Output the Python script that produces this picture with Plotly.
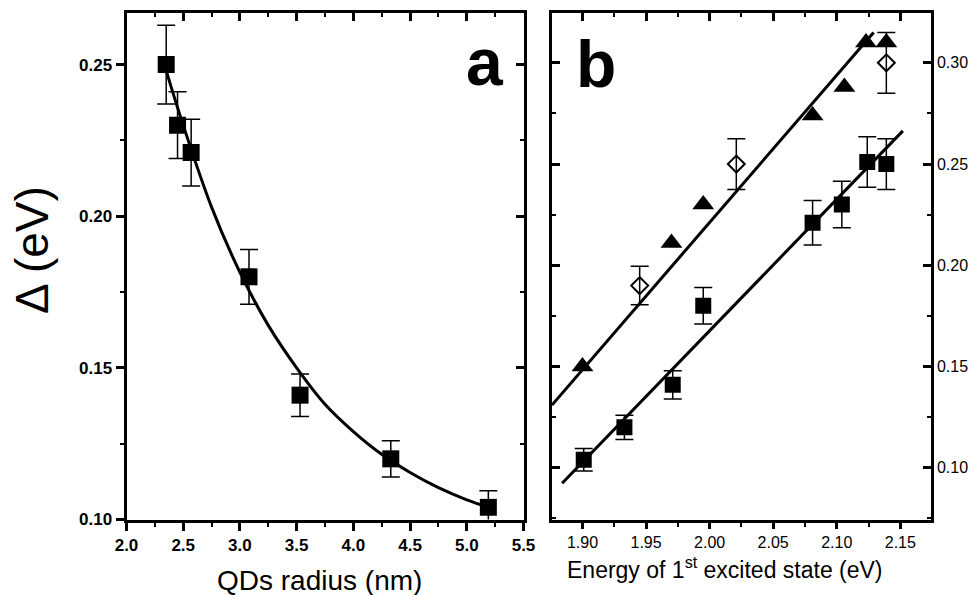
import plotly.graph_objects as go

# ---------------- data ----------------
# panel a
radius = [2.35, 2.45, 2.57, 3.08, 3.53, 4.33, 5.19]
delta_a = [0.250, 0.230, 0.221, 0.180, 0.141, 0.120, 0.104]
err_a = [0.013, 0.011, 0.011, 0.009, 0.007, 0.006, 0.0055]
fit_r = [2.35, 2.5, 2.75, 3.0, 3.25, 3.5, 3.75, 4.0, 4.25, 4.5, 4.75, 5.0, 5.2]
fit_d = [0.248, 0.230, 0.203, 0.1815, 0.164, 0.150, 0.138, 0.129, 0.1215, 0.1155, 0.1105, 0.1065, 0.104]

# panel b
tri_e = [1.900, 1.970, 1.995, 2.081, 2.106, 2.123, 2.139]
tri_d = [0.150, 0.211, 0.230, 0.274, 0.288, 0.310, 0.310]
dia_e = [1.945, 2.021, 2.139]
dia_d = [0.190, 0.250, 0.300]
dia_err = [0.0095, 0.0125, 0.015]
sq_e = [1.901, 1.933, 1.971, 1.995, 2.081, 2.104, 2.124, 2.139]
sq_d = [0.104, 0.120, 0.141, 0.180, 0.221, 0.230, 0.251, 0.250]
sq_err = [0.0055, 0.006, 0.007, 0.009, 0.011, 0.0115, 0.0125, 0.0125]
upper_e = [1.876, 2.129]
upper_d = [0.131, 0.315]
lower_e = [1.884, 2.152]
lower_d = [0.0924, 0.2664]

xa_ticks = [2.0, 2.5, 3.0, 3.5, 4.0, 4.5, 5.0, 5.5]
ya_ticks = [0.10, 0.15, 0.20, 0.25]
xb_ticks = [1.90, 1.95, 2.00, 2.05, 2.10, 2.15]
yb_ticks = [0.10, 0.15, 0.20, 0.25, 0.30]

# ---------------- figure ----------------
FONT = "Liberation Sans, Arial, sans-serif"
fig = go.Figure()

err_style = dict(type="data", visible=True, color="black", thickness=1.5, width=9)

fig.add_trace(go.Scatter(x=fit_r, y=fit_d, mode="lines", line=dict(color="black", width=3, shape="spline"),
                         xaxis="x", yaxis="y", hoverinfo="skip", showlegend=False))
fig.add_trace(go.Scatter(x=radius, y=delta_a, mode="markers",
                         marker=dict(symbol="square", size=17, color="black"),
                         error_y=dict(array=err_a, **err_style),
                         xaxis="x", yaxis="y", showlegend=False))

fig.add_trace(go.Scatter(x=upper_e, y=upper_d, mode="lines", line=dict(color="black", width=3),
                         xaxis="x2", yaxis="y2", hoverinfo="skip", showlegend=False))
fig.add_trace(go.Scatter(x=lower_e, y=lower_d, mode="lines", line=dict(color="black", width=3),
                         xaxis="x2", yaxis="y2", hoverinfo="skip", showlegend=False))
fig.add_trace(go.Scatter(x=tri_e, y=tri_d, mode="markers",
                         marker=dict(symbol="triangle-up", size=19, color="black"),
                         xaxis="x2", yaxis="y2", showlegend=False))
fig.add_trace(go.Scatter(x=dia_e, y=dia_d, mode="markers",
                         marker=dict(symbol="diamond-open", size=13, color="black", line=dict(width=2, color="black")),
                         error_y=dict(array=dia_err, **err_style),
                         xaxis="x2", yaxis="y2", showlegend=False))
fig.add_trace(go.Scatter(x=sq_e, y=sq_d, mode="markers",
                         marker=dict(symbol="square", size=16, color="black"),
                         error_y=dict(array=sq_err, **err_style),
                         xaxis="x2", yaxis="y2", showlegend=False))

# empty traces so the mirrored (overlay) axes get their subplots
for xa, ya in [("x3", "y"), ("x", "y3"), ("x4", "y2"), ("x2", "y4")]:
    fig.add_trace(go.Scatter(x=[], y=[], xaxis=xa, yaxis=ya, showlegend=False, hoverinfo="skip"))

XA = [126.5 / 977, 523.5 / 977]
XB = [551.7 / 977, 930.7 / 977]
YD = [1 - 519.5 / 595, 1 - 13 / 595]
RXA = [2.0, 5.5]
RYA = [0.10, 0.267]
RXB = [1.8758, 2.1739]
RYB = [0.0745, 0.3246]

common = dict(showline=True, linecolor="black", linewidth=3, showgrid=False, zeroline=False,
              tickwidth=2.5, tickcolor="black", automargin=False, fixedrange=True)
bold_tick = dict(family=FONT, size=17, color="black", weight="bold")
reg_tick = dict(family=FONT, size=16, color="black")


def minor(d, t0, where):
    return dict(dtick=d, tick0=t0, ticks=where, ticklen=4, tickwidth=2, tickcolor="black")


fig.update_layout(
    template="none",
    width=977, height=595,
    margin=dict(l=0, r=0, t=0, b=0),
    paper_bgcolor="white", plot_bgcolor="white",
    showlegend=False,
    font=dict(family=FONT, color="black"),
    # ----- panel a -----
    xaxis=dict(domain=XA, range=RXA, anchor="y", side="bottom", ticks="outside", ticklen=8,
               tickvals=xa_ticks, tickformat=".1f", tickfont=bold_tick,
               minor=minor(0.25, 2.0, "outside"), **common),
    xaxis3=dict(range=RXA, overlaying="x", anchor="y", side="top", ticks="inside", ticklen=8,
                tickvals=xa_ticks, showticklabels=False, minor=minor(0.25, 2.0, "inside"), **common),
    yaxis=dict(domain=YD, range=RYA, anchor="x", side="left", ticks="outside", ticklen=8,
               tickvals=ya_ticks, tickformat=".2f", tickfont=bold_tick,
               minor=minor(0.025, 0.1, "outside"), **common),
    yaxis3=dict(range=RYA, overlaying="y", anchor="x", side="right", ticks="inside", ticklen=8,
                tickvals=ya_ticks, showticklabels=False, minor=minor(0.025, 0.1, "inside"), **common),
    # ----- panel b -----
    xaxis2=dict(domain=XB, range=RXB, anchor="y2", side="bottom", ticks="outside", ticklen=6,
                tickvals=xb_ticks, tickformat=".2f", tickfont=reg_tick,
                minor=minor(0.025, 1.9, "outside"), **common),
    xaxis4=dict(range=RXB, overlaying="x2", anchor="y2", side="top", ticks="inside", ticklen=8,
                tickvals=xb_ticks, showticklabels=False, minor=minor(0.025, 1.9, "inside"), **common),
    yaxis2=dict(domain=YD, range=RYB, anchor="x2", side="right", ticks="inside", ticklen=8,
                tickvals=yb_ticks, tickformat=".2f", tickfont=reg_tick,
                minor=minor(0.025, 0.1, "inside"), **common),
    yaxis4=dict(range=RYB, overlaying="y2", anchor="x2", side="left", ticks="inside", ticklen=8,
                tickvals=yb_ticks, showticklabels=False, minor=minor(0.025, 0.1, "inside"), **common),
    annotations=[
        dict(text="Δ (eV)", textangle=-90, x=32 / 977, y=1 - 250 / 595, xref="paper", yref="paper",
             xanchor="center", yanchor="middle", showarrow=False,
             font=dict(family=FONT, size=46, color="black")),
        dict(text="QDs radius (nm)", x=319 / 977, y=1 - 580 / 595, xref="paper", yref="paper",
             xanchor="center", yanchor="middle", showarrow=False,
             font=dict(family=FONT, size=28, color="black")),
        dict(text="Energy of 1<sup>st</sup> excited state (eV)", x=725 / 977, y=1 - 568 / 595,
             xref="paper", yref="paper", xanchor="center", yanchor="middle", showarrow=False,
             font=dict(family=FONT, size=23, color="black")),
        dict(text="a", x=485 / 977, y=1 - 62 / 595, xref="paper", yref="paper",
             xanchor="center", yanchor="middle", showarrow=False,
             font=dict(family=FONT, size=66, color="black", weight="bold")),
        dict(text="b", x=596 / 977, y=1 - 64 / 595, xref="paper", yref="paper",
             xanchor="center", yanchor="middle", showarrow=False,
             font=dict(family=FONT, size=66, color="black", weight="bold")),
    ],
)

fig.write_html("out.html")
